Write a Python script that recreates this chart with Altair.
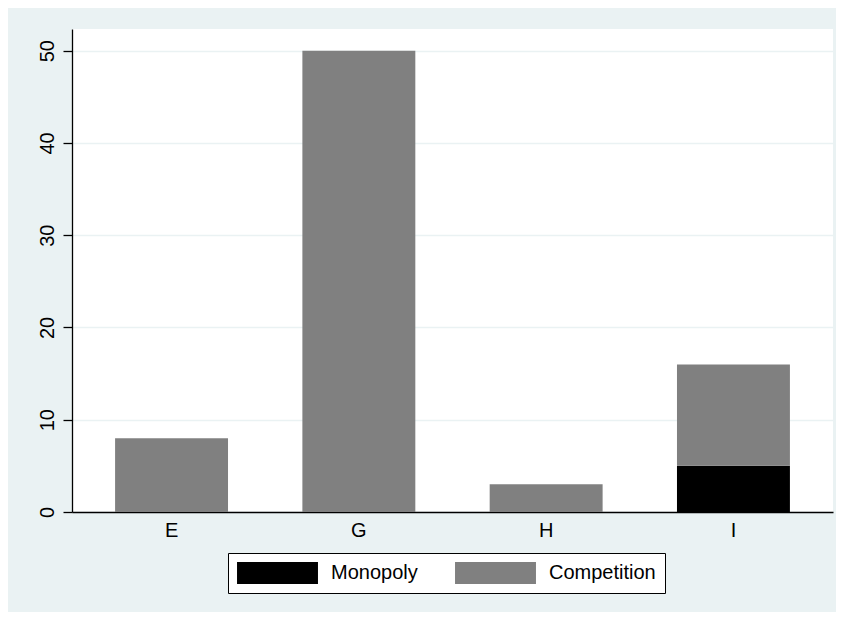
import altair as alt
import pandas as pd

categories = ["E", "G", "H", "I"]
monopoly = [0, 0, 0, 5]
competition = [8, 50, 3, 11]
series = ["Monopoly", "Competition"]
colors = ["#000000", "#808080"]
y_ticks = [0, 10, 20, 30, 40, 50]

rows = []
for i, c in enumerate(categories):
    rows.append({"cat": c, "series": "Monopoly", "ord": 0, "value": monopoly[i]})
    rows.append({"cat": c, "series": "Competition", "ord": 1, "value": competition[i]})
df = pd.DataFrame(rows)

FONT = "Liberation Sans"
BG = "#EAF2F3"

chart = alt.Chart(df).mark_bar().encode(
    x=alt.X(
        "cat:N",
        sort=categories,
        scale=alt.Scale(paddingInner=0.397, paddingOuter=0.23),
        axis=alt.Axis(
            title=None, labelAngle=0, ticks=False, labelFontSize=20, labelPadding=8,
            domainColor="black", domainWidth=1.3, labelColor="black", labelFont=FONT,
            grid=False,
        ),
    ),
    y=alt.Y(
        "value:Q",
        stack="zero",
        scale=alt.Scale(domain=[0, 52.35], nice=False),
        axis=alt.Axis(
            title=None, values=y_ticks, labelAngle=270, labelAlign="center",
            labelBaseline="alphabetic", tickSize=9, tickColor="black", tickWidth=1.3,
            labelPadding=10, labelFontSize=20, labelColor="black", labelFont=FONT,
            domainColor="black", domainWidth=1.3, grid=True, gridColor=BG, gridWidth=1.3,
        ),
    ),
    color=alt.Color(
        "series:N",
        scale=alt.Scale(domain=series, range=colors),
        title=None,
        legend=alt.Legend(
            orient="none", legendX=156, legendY=524, direction="horizontal",
            fillColor="white", strokeColor="black", padding=9,
            symbolType="M-3.68,-1L3.68,-1L3.68,1L-3.68,1Z", symbolSize=484,
            symbolOffset=29.5, symbolStrokeWidth=0, symbolOpacity=1,
            labelFontSize=20, labelOffset=42.5, columnPadding=37,
            labelFont=FONT, labelColor="black",
        ),
    ),
    order=alt.Order("ord:Q"),
).properties(
    width=761,
    height=483,
    background=BG,
    padding={"left": 64, "top": 21, "right": 3, "bottom": 100},
    autosize=alt.AutoSizeParams(type="none"),
).configure_view(fill="white", stroke="white", strokeWidth=0)

chart.save("out.html", embed_options={"renderer": "svg", "actions": False})
